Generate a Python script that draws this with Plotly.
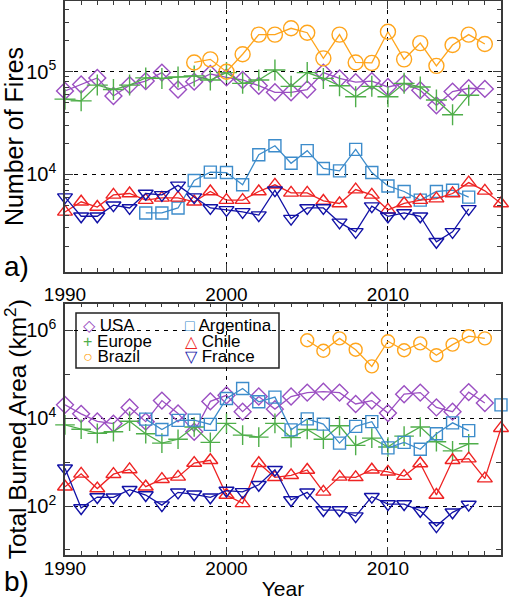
import plotly.graph_objects as go

years = list(range(1990, 2018))

# ---- Panel a: number of fires ----
usa_fires = [6.5e4, 7.5e4, 8.7e4, 5.8e4, 7.4e4, 8.1e4, 9.8e4, 6.7e4, 8.0e4, 9.5e4,
             8.8e4, 8.3e4, 7.3e4, 6.3e4, 6.3e4, 6.7e4, 9.8e4, 8.6e4, 7.9e4, 8.1e4,
             7.1e4, 7.7e4, 6.6e4, 4.7e4, 6.4e4, 6.9e4, 6.8e4, None]
europe_fires = [5.4e4, 5.2e4, 7.4e4, 6.7e4, 7.4e4, 8.7e4, 8.6e4, 8.9e4, 9.1e4, 8.3e4,
                9.8e4, 7.7e4, 8.3e4, 1.04e5, 7.2e4, 9.8e4, 8.6e4, 7.3e4, 5.7e4, 7.2e4,
                5.7e4, 7.7e4, 7.1e4, 5.3e4, 3.8e4, 5.9e4, None, None]
brazil_fires = [None] * 8 + [1.23e5, 1.32e5, 1.0e5, 1.48e5, 2.3e5, 2.3e5, 2.65e5, 2.4e5,
                             1.35e5, 2.3e5, 1.23e5, 1.22e5, 2.45e5, 1.32e5, 1.9e5, 1.14e5,
                             1.82e5, 2.3e5, 1.86e5, None]
argentina_fires = [None] * 5 + [4.2e3, 4.2e3, 4.7e3, 8.7e3, 1.05e4, 1.04e4, 7.9e3, 1.55e4,
                                1.9e4, 1.28e4, 1.7e4, 1.14e4, 1.08e4, 1.75e4, 1.04e4, 7.7e3,
                                6.8e3, 5.6e3, 6.8e3, 7.0e3, 6.0e3, None, None]
chile_fires = [4.3e3, 5.4e3, 4.8e3, 6.3e3, 6.5e3, 5.6e3, 5.9e3, 5.9e3, 5.4e3, 6.8e3,
               5.6e3, 5.6e3, 6.8e3, 7.9e3, 6.6e3, 6.6e3, 5.5e3, 5.2e3, 7.1e3, 6.3e3,
               4.5e3, 5.2e3, 5.6e3, 5.8e3, 6.5e3, 8.3e3, 6.9e3, 5.2e3]
france_fires = [6.0e3, 3.9e3, 3.9e3, 5.0e3, 4.7e3, 6.5e3, 6.3e3, 7.8e3, 6.0e3, 4.7e3,
                4.5e3, 4.3e3, 4.0e3, 7.0e3, 3.7e3, 4.7e3, 4.7e3, 3.4e3, 2.75e3, 4.9e3,
                3.9e3, 4.2e3, 3.9e3, 2.2e3, 2.75e3, 4.6e3, None, None]

# ---- Panel b: total burned area (km^2) ----
usa_area = [2.0e4, 1.25e4, 8.4e3, 7.5e3, 1.75e4, 8.3e3, 2.5e4, 1.28e4, 4.9e3, 2.4e4,
            3.3e4, 1.4e4, 3.1e4, 1.6e4, 3.1e4, 3.8e4, 4.0e4, 3.8e4, 2.1e4, 2.5e4,
            1.3e4, 3.5e4, 3.8e4, 1.75e4, 1.4e4, 3.9e4, 2.2e4, None]
europe_area = [7.0e3, 5.6e3, 4.5e3, 4.9e3, 8.5e3, 4.4e3, 2.7e3, 3.3e3, 6.3e3, 2.8e3,
               7.6e3, 4.1e3, 3.7e3, 7.6e3, 3.6e3, 5.5e3, 3.3e3, 6.7e3, 2.4e3, 3.5e3,
               2.2e3, 3.9e3, 6.3e3, 2.9e3, 1.8e3, 2.6e3, None, None]
brazil_area = [None] * 15 + [5.9e5, 3.4e5, 6.5e5, 3.6e5, 1.5e5, 5.6e5, 3.5e5, 5.0e5,
                             2.7e5, 4.7e5, 7.3e5, 6.5e5, None]
argentina_area = [None] * 5 + [9.5e3, 5.5e3, 8.9e3, 9.0e3, 7.2e3, 2.8e4, 4.7e4, 2.35e4,
                               3.0e4, 5.4e3, 9.6e3, 7.3e3, 2.7e3, 6.5e3, 8.3e3, 2.1e3,
                               2.8e3, 1.95e3, 4.4e3, 7.8e3, 5.2e3, None, 2.0e4]
chile_area = [275, 540, 250, 530, 680, 275, 408, 460, 950, 1100,
              178, 115, 940, 450, 500, 660, 210, 460, 450, 670,
              600, 480, 930, 178, 1100, 1200, 420, 5900]
france_area = [725, 90, 160, 158, 235, 178, 105, 205, 185, 158,
               225, 210, 305, 670, 137, 205, 81, 81, 59, 163,
               111, 111, 78, 35, 72, 108, None, None]

series_names = ["USA", "Europe", "Brazil", "Argentina", "Chile", "France"]
fires_data = [usa_fires, europe_fires, brazil_fires, argentina_fires, chile_fires, france_fires]
area_data = [usa_area, europe_area, brazil_area, argentina_area, chile_area, france_area]
colors = ["#9b4fc2", "#4fae4a", "#ffa51c", "#3d8ccb", "#ee2323", "#1212a6"]
symbols = ["diamond-open", "cross-thin-open", "circle-open", "square-open",
           "triangle-up-open", "triangle-down-open"]
legend_glyphs = ["◇", "+", "○", "□", "△", "▽"]
size_top = [13, 15, 15, 12, 13, 13]
size_bot = [13, 14, 13, 12, 13, 13]

FONT = "Liberation Sans, Arial, Helvetica, sans-serif"
AX = "#3a3a3a"
DASH = "4px,5px"

fig = go.Figure()
for i, name in enumerate(series_names):
    c = colors[i]
    fig.add_trace(go.Scatter(
        x=years, y=fires_data[i], name=name, mode="lines+markers", xaxis="x", yaxis="y",
        line=dict(color=c, width=1.3), connectgaps=False, cliponaxis=False,
        marker=dict(symbol=symbols[i], size=size_top[i], color=c, line=dict(width=1.4, color=c)),
        showlegend=False))
    fig.add_trace(go.Scatter(
        x=years, y=area_data[i], name=name, mode="lines+markers", xaxis="x2", yaxis="y2",
        line=dict(color=c, width=1.3), connectgaps=False, cliponaxis=False,
        marker=dict(symbol=symbols[i], size=size_bot[i], color=c, line=dict(width=1.4, color=c)),
        showlegend=False))

L, R, T, B = 65, 21, 1, 45
W, H = 522, 600
pw, ph = W - L - R, H - T - B


def px(x):
    return (x - L) / pw


def py(y):
    return (H - B - y) / ph


common_x = dict(
    range=[1990, 2017], tickvals=[1990, 2000, 2010], ticks="inside", ticklen=8,
    tickwidth=1.3, tickcolor=AX, showline=True, linecolor=AX, linewidth=1.5,
    mirror="ticks", showgrid=True, gridcolor="black", griddash=DASH, gridwidth=1,
    zeroline=False, tickfont=dict(size=19, family=FONT, color="black"), automargin=False,
    minor=dict(dtick=1, tick0=1990, ticks="inside", ticklen=4, tickcolor=AX,
               tickwidth=1.2, showgrid=False),
)

minor_top = [k * 10 ** e for e in (3, 4, 5) for k in range(2, 10)]
minor_bot = [10, 1e3, 1e5]


# legend: two text columns inside a framed box (small base font keeps rows tight)
def legend_column(idx):
    rows = []
    for i in idx:
        rows.append(f'<span style="color:{colors[i]};font-size:16px">{legend_glyphs[i]}</span>'
                    f'<span style="font-size:17px"> {series_names[i]}</span>')
    return "<br>".join(rows)


annotations = [
    dict(text=legend_column([0, 1, 2]), xref="paper", yref="paper",
         x=px(81), y=py(341), xanchor="left", yanchor="middle", align="left",
         showarrow=False, font=dict(size=12, family=FONT, color="black")),
    dict(text=legend_column([3, 4, 5]), xref="paper", yref="paper",
         x=px(183), y=py(341), xanchor="left", yanchor="middle", align="left",
         showarrow=False, font=dict(size=12, family=FONT, color="black")),
    dict(text="a)", xref="paper", yref="paper", x=px(16), y=py(266),
         xanchor="center", yanchor="middle", showarrow=False,
         font=dict(size=28, family=FONT)),
    dict(text="b)", xref="paper", yref="paper", x=px(16), y=py(581),
         xanchor="center", yanchor="middle", showarrow=False,
         font=dict(size=28, family=FONT)),
]

fig.update_layout(
    width=W, height=H,
    margin=dict(l=L, r=R, t=T, b=B),
    paper_bgcolor="white", plot_bgcolor="white",
    font=dict(family=FONT, color="black"),
    showlegend=False,
    xaxis=dict(common_x, anchor="y", domain=[0, 1], ticklabelstandoff=4),
    xaxis2=dict(common_x, anchor="y2", domain=[0, 1], ticklabelstandoff=-5,
                title=dict(text="Year", font=dict(size=21, family=FONT), standoff=10)),
    yaxis=dict(
        type="log", domain=[py(272), 1], range=[3.048, 5.689], anchor="x",
        tickvals=[1e4, 1e5], ticktext=["10<sup>4</sup>", "10<sup>5</sup>"],
        ticks="inside", ticklen=8, tickwidth=1.3, tickcolor=AX, automargin=False,
        showline=True, linecolor=AX, linewidth=1.5, mirror="ticks",
        showgrid=True, gridcolor="black", griddash=DASH, gridwidth=1, zeroline=False,
        tickfont=dict(size=20, family=FONT), ticklabelstandoff=3,
        minor=dict(tickvals=minor_top, ticks="inside", ticklen=4, tickcolor=AX,
                   tickwidth=1.2, showgrid=False),
        title=dict(text="Number of Fires", font=dict(size=25, family=FONT), standoff=3),
    ),
    yaxis2=dict(
        type="log", domain=[0, py(303.5)], range=[0.886, 6.607], anchor="x2",
        tickvals=[1e2, 1e4, 1e6], ticktext=["10<sup>2</sup>", "10<sup>4</sup>", "10<sup>6</sup>"],
        ticks="inside", ticklen=8, tickwidth=1.3, tickcolor=AX, automargin=False,
        showline=True, linecolor=AX, linewidth=1.5, mirror="ticks",
        showgrid=True, gridcolor="black", griddash=DASH, gridwidth=1, zeroline=False,
        tickfont=dict(size=20, family=FONT), ticklabelstandoff=3,
        minor=dict(tickvals=minor_bot, ticks="inside", ticklen=5, tickcolor=AX,
                   tickwidth=1.2, showgrid=False),
        title=dict(text="Total Burned Area (km<sup>2</sup>)", font=dict(size=24.5, family=FONT),
                   standoff=3),
    ),
    shapes=[dict(type="rect", xref="paper", yref="paper",
                 x0=px(76), x1=px(279), y0=py(368), y1=py(313),
                 line=dict(color="#222", width=1.5), fillcolor="white", layer="below")],
    annotations=annotations,
)

fig.write_html("out.html", config={"displayModeBar": False},
               post_script="document.body.style.margin='0px';")
